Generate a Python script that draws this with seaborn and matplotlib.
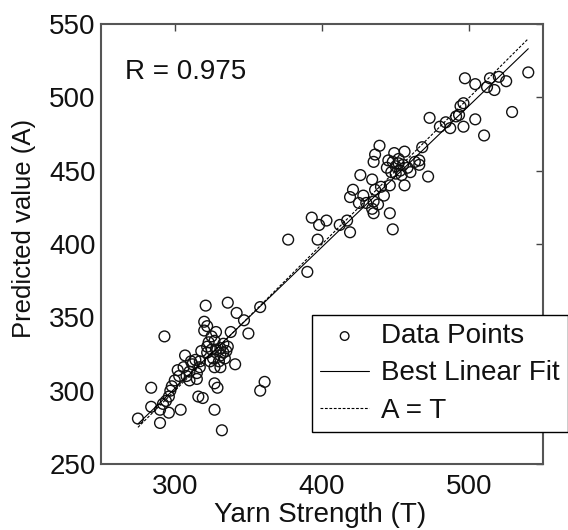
"""
Predicted value vs yarn strength with best linear fit and A = T line.
"""

import numpy as np
import seaborn as sns
import matplotlib
matplotlib.use('Agg')
import matplotlib.pyplot as plt

strength = [
    275, 284, 284, 290, 290, 292, 293, 296, 296, 298, 300, 303, 304, 302, 307,
    308, 310, 310, 314, 315, 315, 316, 317, 317, 319, 320, 321, 322, 322, 322,
    323, 325, 325, 326, 327, 327, 327, 327, 328, 329, 331, 331, 331, 332, 333,
    334, 335, 336, 338, 341, 342, 347, 350, 358, 358, 361,
    312, 306, 318, 324, 330, 333, 328, 320, 336, 311, 297, 294,
    377, 390, 393, 397, 398, 403, 412, 417, 419, 419, 421, 426, 434, 435, 436,
    434, 436, 435, 439, 445, 446, 446, 448, 447, 449, 450, 452, 454, 455, 456,
    460, 463, 466, 468, 472, 473,
    428, 425, 430, 438, 435, 440, 456, 442, 450, 444, 452, 458, 448, 453, 466,
    480, 484, 487, 491, 496, 493, 496, 497, 504, 504, 510, 512, 514, 517, 520,
    525, 529, 540, 494,
]
predicted = [
    281, 289, 302, 278, 287, 291, 337, 285, 296, 303, 307, 310, 287, 314, 324,
    310, 313, 307, 321, 312, 308, 296, 320, 316, 295, 347, 358, 344, 330, 326,
    333, 337, 328, 322, 316, 305, 287, 334, 328, 302, 329, 324, 316, 273, 332,
    322, 327, 360, 340, 318, 353, 348, 339, 357, 300, 306,
    318, 316, 327, 320, 320, 326, 340, 341, 330, 320, 300, 293,
    403, 381, 418, 403, 413, 416, 413, 416, 408, 432, 437, 447, 424, 429, 437,
    444, 461, 456, 467, 457, 440, 421, 410, 449, 462, 453, 455, 447, 454, 463,
    449, 456, 457, 466, 446, 486,
    433, 428, 428, 427, 421, 439, 440, 433, 448, 452, 458, 452, 456, 450, 454,
    480, 483, 479, 487, 480, 488, 496, 513, 509, 485, 474, 507, 513, 505, 514,
    511, 490, 517, 494,
]
r_value = 0.975

x_ticks = [300, 400, 500]
y_ticks = [250, 300, 350, 400, 450, 500, 550]

sns.set_style('white')
plt.rcParams['font.family'] = ['Liberation Sans', 'DejaVu Sans']

fig = plt.figure(figsize=(5.68, 5.30), dpi=100)
ax = fig.add_axes([0.178, 0.1245, 0.778, 0.8302])

t = np.array(strength, dtype=float)
a = np.array(predicted, dtype=float)

# fitted line across the data range
slope, intercept = np.polyfit(t, a, 1)
line_x = np.linspace(t.min(), t.max(), 50)

sns.scatterplot(x=t, y=a, ax=ax, marker='o', s=60, facecolor='none',
                edgecolor='#111111', linewidth=1.0, label='Data Points')
sns.lineplot(x=line_x, y=slope * line_x + intercept, ax=ax, color='black',
             linewidth=0.8, label='Best Linear Fit')
sns.lineplot(x=line_x, y=line_x, ax=ax, color='black', linewidth=0.8,
             linestyle=(0, (2.5, 1.5)), label='A = T')

ax.set_xlim(250, 550)
ax.set_ylim(250, 550)
ax.set_xticks(x_ticks)
ax.set_yticks(y_ticks)
ax.tick_params(direction='in', top=True, right=True, length=5, width=1,
               colors='#444444', labelcolor='#111111', labelsize=20)
ax.tick_params(axis='x', pad=7)
ax.tick_params(axis='y', pad=4)
for s in ax.spines.values():
    s.set_color('#555555')
    s.set_linewidth(1.5)

ax.set_xlabel('Yarn Strength (T)', fontsize=20, color='#111111')
ax.set_ylabel('Predicted value (A)', fontsize=18.5, color='#111111')
ax.xaxis.set_label_coords(0.495, -0.086)
ax.yaxis.set_label_coords(-0.147, 0.536)

ax.text(0.054, 0.891, 'R = %.3f' % r_value, transform=ax.transAxes,
        fontsize=20, va='center', ha='left', color='#111111')

leg = ax.legend(loc='upper left', bbox_to_anchor=(312 / 568, 1 - 315 / 530),
                bbox_transform=fig.transFigure, fontsize=20, frameon=True,
                fancybox=False, framealpha=1, edgecolor='black',
                handlelength=1.75, handletextpad=0.42, labelspacing=0.4,
                borderpad=0.3, borderaxespad=0, markerscale=0.8)
leg.get_frame().set_linewidth(1.0)
for txt in leg.get_texts():
    txt.set_color('#111111')

plt.savefig('out.png', dpi=100)
